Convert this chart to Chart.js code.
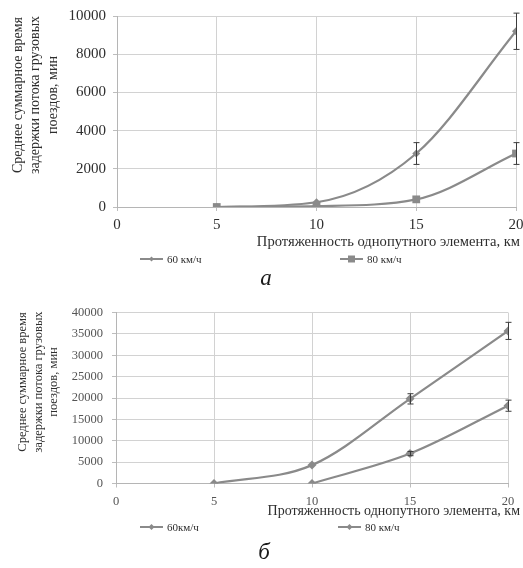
<!DOCTYPE html>
<html>
<head>
<meta charset="utf-8">
<script src="https://cdn.jsdelivr.net/npm/chart.js@4.4.1/dist/chart.umd.min.js"></script>
<style>
  body { margin: 0; background: #fff; width: 523px; height: 568px; position: relative; overflow: hidden; font-family: "Liberation Serif", serif; }
  .box { position: absolute; left: 0; width: 523px; }
  .cap { position: absolute; width: 30px; text-align: center; font-style: italic; font-size: 23px; line-height: 23px; color: #1a1a1a; }
</style>
</head>
<body>
<div class="box" style="top:0;height:290px"><canvas id="chartA"></canvas></div>
<div class="cap" style="left:251px;top:266px">а</div>
<div class="box" style="top:296px;height:245px"><canvas id="chartB"></canvas></div>
<div class="cap" style="left:249px;top:540px">б</div>

<script>
// length of the single-track section, km
const distanceKm = [5, 10, 15, 20];
const distanceB80 = [10, 15, 20];
const xTicks = [0, 5, 10, 15, 20];

// (а) total delay, min
const delayA60 = [0, 250, 2800, 9200];
const delayA80 = [0, 50, 400, 2800];
const errA60 = [0, 0, 570, 950];
const errA80 = [0, 0, 0, 570];

// (б) total delay, min
const delayB60 = [0, 4300, 19800, 35700];
const delayB80 = [0, 7000, 18200];
const errB60 = [0, 0, 1200, 2000];
const errB80 = [0, 500, 1300];

const namesA = ['60 км/ч', '80 км/ч'];
const namesB = ['60км/ч', '80 км/ч'];
const yTitle = ['Среднее суммарное время', 'задержки потока грузовых', 'поездов, мин'];
const xTitle = 'Протяженность однопутного элемента, км';

const lineColor = '#8a8a8a';
const gridColor = '#d2d2d2';
const textColor = '#2e2e2e';
const serif = '"Liberation Serif", "Times New Roman", serif';

function pts(xs, ys) {
    return xs.map((x, i) => ({ x: x, y: ys[i] }));
}

// vertical error bars with small caps
const errorBars = {
    id: 'errorBars',
    afterDatasetsDraw(chart) {
        const ctx = chart.ctx;
        const xs = chart.scales.x, ys = chart.scales.y;
        ctx.save();
        ctx.strokeStyle = '#3c3c3c';
        ctx.lineWidth = 1;
        chart.data.datasets.forEach(ds => {
            if (!ds.errors) return;
            ds.data.forEach((p, i) => {
                const e = ds.errors[i];
                if (!e) return;
                const px = Math.round(xs.getPixelForValue(p.x)) + 0.5;
                const top = ys.getPixelForValue(p.y + e);
                const bot = ys.getPixelForValue(p.y - e);
                ctx.beginPath();
                ctx.moveTo(px, top); ctx.lineTo(px, bot);
                ctx.moveTo(px - 3, top); ctx.lineTo(px + 3, top);
                ctx.moveTo(px - 3, bot); ctx.lineTo(px + 3, bot);
                ctx.stroke();
            });
        });
        ctx.restore();
    }
};

function drawMarker(ctx, style, r, x, y) {
    ctx.beginPath();
    if (style === 'rect') {
        ctx.rect(x - r, y - r, 2 * r, 2 * r);
    } else {
        ctx.moveTo(x, y - r); ctx.lineTo(x + r, y); ctx.lineTo(x, y + r); ctx.lineTo(x - r, y);
        ctx.closePath();
    }
    ctx.fill();
}

// Excel-like legend: short line with the marker in the middle
const lineLegend = {
    id: 'lineLegend',
    afterDraw(chart, args, opts) {
        const ctx = chart.ctx;
        ctx.save();
        chart.data.datasets.forEach((ds, i) => {
            const pos = opts.items[i];
            ctx.strokeStyle = ds.borderColor;
            ctx.fillStyle = ds.backgroundColor;
            ctx.lineWidth = 2;
            ctx.beginPath();
            ctx.moveTo(pos.x, pos.y); ctx.lineTo(pos.x + 23, pos.y);
            ctx.stroke();
            drawMarker(ctx, ds.pointStyle, opts.markerSize[i], pos.x + 11.5, pos.y);
            ctx.fillStyle = textColor;
            ctx.font = opts.font;
            ctx.textBaseline = 'middle';
            ctx.fillText(ds.label, pos.x + 27, pos.y + 1);
        });
        ctx.restore();
    }
};

// rotated three-line value title and the right-aligned distance title
const axisTitles = {
    id: 'axisTitles',
    afterDraw(chart, args, opts) {
        const ctx = chart.ctx;
        ctx.save();
        ctx.fillStyle = textColor;
        ctx.textBaseline = 'middle';
        ctx.font = opts.yFont;
        ctx.textAlign = 'center';
        opts.yLines.forEach((t, i) => {
            ctx.save();
            ctx.translate(opts.yX + i * opts.yGap, opts.yY);
            ctx.rotate(-Math.PI / 2);
            ctx.fillText(t, 0, 0);
            ctx.restore();
        });
        ctx.font = opts.xFont;
        ctx.textAlign = 'right';
        ctx.fillText(opts.xText, opts.xRight, opts.xY);
        ctx.restore();
    }
};

function dataset(label, data, errors, style, radius) {
    return {
        label: label,
        data: data,
        errors: errors,
        borderColor: lineColor,
        backgroundColor: lineColor,
        borderWidth: 2.2,
        pointStyle: style,
        pointRadius: radius,
        pointBorderWidth: 0,
        pointHoverRadius: radius,
        cubicInterpolationMode: 'monotone',
        fill: false
    };
}

function options(p) {
    return {
        responsive: true,
        maintainAspectRatio: false,
        animation: false,
        events: [],
        layout: { padding: p.padding },
        plugins: {
            legend: { display: false },
            tooltip: { enabled: false },
            lineLegend: { items: p.legendAt, markerSize: p.legendMarkers, font: '11px ' + serif },
            axisTitles: {
                yLines: yTitle, yX: p.titleX, yY: p.titleY, yGap: p.titleGap, yFont: p.titleFont + 'px ' + serif,
                xText: xTitle, xRight: 520, xY: p.xTitleY, xFont: p.xTitleSize + 'px ' + serif
            }
        },
        scales: {
            x: {
                type: 'linear',
                min: 0,
                max: 20,
                afterBuildTicks: axis => { axis.ticks = xTicks.map(v => ({ value: v })); },
                afterFit: axis => { axis.paddingLeft = 0; axis.paddingRight = 0; },
                grid: { color: gridColor, tickLength: 4, tickColor: '#bdbdbd' },
                border: { color: '#b5b5b5' },
                ticks: { color: p.yTickColor, padding: p.xTickPad, font: { family: serif, size: p.tickSize, lineHeight: 1.0 } }
            },
            y: {
                min: 0,
                max: p.yMax,
                ticks: {
                    stepSize: p.yStep,
                    color: p.yTickColor,
                    padding: p.yTickPad,
                    font: { family: serif, size: p.tickSize },
                    callback: v => String(v)
                },
                grid: { color: gridColor, tickLength: 4, tickColor: '#bdbdbd' },
                border: { color: '#b5b5b5' },
                afterFit: axis => { axis.width = p.yWidth; }
            }
        }
    };
}

new Chart(document.getElementById('chartA'), {
    type: 'line',
    data: {
        datasets: [
            dataset(namesA[0], pts(distanceKm, delayA60), errA60, 'rectRot', 4),
            dataset(namesA[1], pts(distanceKm, delayA80), errA80, 'rect', 5.5)
        ]
    },
    options: options({
        padding: { top: 15, right: 7, bottom: 50, left: 57 },
        yWidth: 60, yMax: 10000, yStep: 2000, yTickColor: textColor, yTickPad: 7,
        tickSize: 15, xTickPad: 7,
        xTitleSize: 14.6, xTitleY: 242,
        legendAt: [{ x: 140, y: 259 }, { x: 340, y: 259 }], legendMarkers: [2.5, 3.5],
        titleX: 18, titleY: 95, titleGap: 17.5, titleFont: 14
    }),
    plugins: [errorBars, lineLegend, axisTitles]
});

new Chart(document.getElementById('chartB'), {
    type: 'line',
    data: {
        datasets: [
            dataset(namesB[0], pts(distanceKm, delayB60), errB60, 'rectRot', 4.5),
            dataset(namesB[1], pts(distanceB80, delayB80), errB80, 'rectRot', 4.5)
        ]
    },
    options: options({
        padding: { top: 16, right: 15, bottom: 25, left: 56 },
        yWidth: 60, yMax: 40000, yStep: 5000, yTickColor: '#555', yTickPad: 9,
        tickSize: 12.5, xTickPad: 8,
        xTitleSize: 14, xTitleY: 215,
        legendAt: [{ x: 140, y: 231 }, { x: 338, y: 231 }], legendMarkers: [3, 3],
        titleX: 23, titleY: 86, titleGap: 15.5, titleFont: 12.5
    }),
    plugins: [errorBars, lineLegend, axisTitles]
});
</script>
</body>
</html>
